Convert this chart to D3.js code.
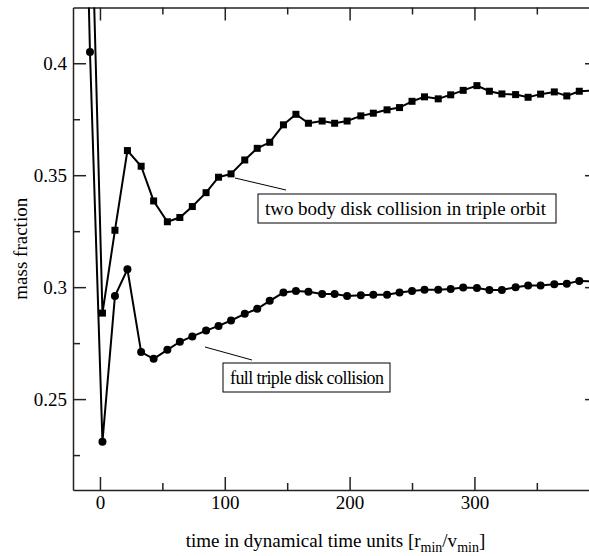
<!DOCTYPE html>
<html>
<head>
<meta charset="utf-8">
<script src="https://cdn.jsdelivr.net/npm/d3@7"></script>
<style>
body { margin: 0; background: #fff; }
svg { display: block; font-family: "Liberation Serif", "Times New Roman", serif; }
.axis path, .axis line { stroke: #222; stroke-width: 1.5; }
.axis text { font-size: 19px; fill: #000; font-family: "Liberation Serif", serif; }
</style>
</head>
<body>
<script>
//time points (dynamical time units), shared by both runs
var times = [-19, -8, 2, 12, 22, 33, 43, 54, 64, 74, 85, 95, 105, 116, 126, 136, 147, 157, 167, 178,
             188, 198, 209, 219, 230, 240, 250, 260, 271, 281, 291, 302, 312, 322, 333, 343, 353, 364,
             374, 384, 395];

//full triple disk collision (circles)
var fullTriple = [0.66, 0.405, 0.231, 0.296, 0.308, 0.271, 0.268, 0.272, 0.2756, 0.278, 0.2806, 0.2827,
                  0.2851, 0.2881, 0.2903, 0.2939, 0.2976, 0.2983, 0.2979, 0.2969, 0.2969, 0.2961,
                  0.2964, 0.2966, 0.2966, 0.2976, 0.2983, 0.2988, 0.2988, 0.2992, 0.2998, 0.2996,
                  0.2987, 0.2987, 0.300, 0.3007, 0.3007, 0.3013, 0.3015, 0.3028, 0.3026];

//two body disk collision in triple orbit (squares)
var twoBody = [null, 0.496, 0.2884, 0.3254, 0.361, 0.354, 0.3385, 0.3292, 0.3311, 0.336, 0.3422, 0.3491,
               0.3506, 0.3568, 0.362, 0.3647, 0.3725, 0.3772, 0.3732, 0.3742, 0.3732, 0.3742, 0.3765,
               0.3777, 0.3792, 0.3802, 0.383, 0.385, 0.3841, 0.3859, 0.3879, 0.390, 0.3875, 0.3863,
               0.386, 0.3848, 0.3862, 0.3872, 0.3854, 0.3875, 0.3878];

var xLabeled = [0, 100, 200, 300];
var xMajor = [0, 100, 200, 300, 400];
var xMinor = [50, 150, 250, 350];
var yMajor = [0.25, 0.3, 0.35, 0.4];
var yMinor = [0.225, 0.275, 0.325, 0.375];

(function(){

var width = 589, height = 556;
var pLeft = 73, pRight = 598, pTop = 7.5, pBottom = 490;

var svg = d3.select("body").append("svg")
    .attr("width", width)
    .attr("height", height)
    .style("overflow", "hidden");

var x = d3.scaleLinear().domain([-21.6, 399]).range([pLeft, pRight]);
var y = d3.scaleLinear().domain([0.2094, 0.4249]).range([pBottom, pTop]);

svg.append("clipPath").attr("id", "plotClip")
    .append("rect")
    .attr("x", pLeft).attr("y", pTop)
    .attr("width", pRight - pLeft).attr("height", pBottom - pTop);

//axes: major and minor ticks pointing inward, mirrored on top/right
function addAxis(gen, tx, ty, ticks, size, labels){
    return svg.append("g")
        .attr("class", "axis")
        .attr("transform", "translate(" + tx + "," + ty + ")")
        .call(gen.tickValues(ticks).tickSizeInner(size).tickSizeOuter(0)
            .tickFormat(labels ? d3.format("") : ""));
}

addAxis(d3.axisBottom(x), 0, pBottom, xMajor, -13, false);
addAxis(d3.axisBottom(x).tickPadding(6), 0, pBottom, xLabeled, 0, true).selectAll("line, .domain").remove();
addAxis(d3.axisBottom(x), 0, pBottom, xMinor, -7, false).select(".domain").remove();
addAxis(d3.axisTop(x), 0, pTop, xMajor, -13, false);
addAxis(d3.axisTop(x), 0, pTop, xMinor, -7, false).select(".domain").remove();
addAxis(d3.axisLeft(y).tickPadding(6), pLeft, 0, yMajor, -13, true);
addAxis(d3.axisLeft(y), pLeft, 0, yMinor, -7, false).select(".domain").remove();
addAxis(d3.axisRight(y), pRight, 0, yMajor, -13, false);
addAxis(d3.axisRight(y), pRight, 0, yMinor, -7, false).select(".domain").remove();

//data lines and markers
var plot = svg.append("g").attr("clip-path", "url(#plotClip)");

var line = d3.line()
    .defined(function(d){ return d[1] != null; })
    .x(function(d){ return x(d[0]); })
    .y(function(d){ return y(d[1]); });

var twoPts = times.map(function(t, i){ return [t, twoBody[i]]; });
var fullPts = times.map(function(t, i){ return [t, fullTriple[i]]; });

plot.append("path").datum(twoPts)
    .attr("d", line)
    .attr("fill", "none").attr("stroke", "#000").attr("stroke-width", 2);
plot.append("path").datum(fullPts)
    .attr("d", line)
    .attr("fill", "none").attr("stroke", "#000").attr("stroke-width", 2);

plot.selectAll(".sq")
    .data(twoPts.filter(function(d){ return d[1] != null; }))
    .enter().append("rect")
    .attr("class", "sq")
    .attr("x", function(d){ return x(d[0]) - 3.5; })
    .attr("y", function(d){ return y(d[1]) - 3.5; })
    .attr("width", 7).attr("height", 7)
    .attr("fill", "#000");

plot.selectAll(".dot")
    .data(fullPts)
    .enter().append("circle")
    .attr("class", "dot")
    .attr("cx", function(d){ return x(d[0]); })
    .attr("cy", function(d){ return y(d[1]); })
    .attr("r", 4)
    .attr("fill", "#000");

//annotations with leader lines
function annotate(text, fs, bx, by, bw, bh, tw, lx1, ly1, lx2, ly2){
    svg.append("line")
        .attr("x1", lx1).attr("y1", ly1).attr("x2", lx2).attr("y2", ly2)
        .attr("stroke", "#000").attr("stroke-width", 1);
    svg.append("rect")
        .attr("x", bx).attr("y", by).attr("width", bw).attr("height", bh)
        .attr("fill", "#fff").attr("stroke", "#000").attr("stroke-width", 1);
    svg.append("text")
        .attr("x", bx + 7).attr("y", by + 21)
        .attr("font-size", fs)
        .attr("textLength", tw)
        .attr("lengthAdjust", "spacing")
        .text(text);
}
annotate("two body disk collision in triple orbit", 19, 258, 194, 298, 29, 281, 235, 178, 286, 190);
annotate("full triple disk collision", 18, 223, 363, 167, 29, 154, 205, 347, 252, 360);

//axis titles
svg.append("text")
    .attr("transform", "translate(27," + ((pTop + pBottom) / 2) + ") rotate(-90)")
    .attr("text-anchor", "middle")
    .attr("font-size", 19)
    .text("mass fraction");

var xt = svg.append("text")
    .attr("x", (pLeft + pRight) / 2)
    .attr("y", 547)
    .attr("text-anchor", "middle")
    .attr("font-size", 19);
xt.append("tspan").text("time in dynamical time units [r");
xt.append("tspan").attr("font-size", 14).attr("dy", 5).text("min");
xt.append("tspan").attr("dy", -5).text("/v");
xt.append("tspan").attr("font-size", 14).attr("dy", 5).text("min");
xt.append("tspan").attr("dy", -5).text("]");

})();
</script>
</body>
</html>
